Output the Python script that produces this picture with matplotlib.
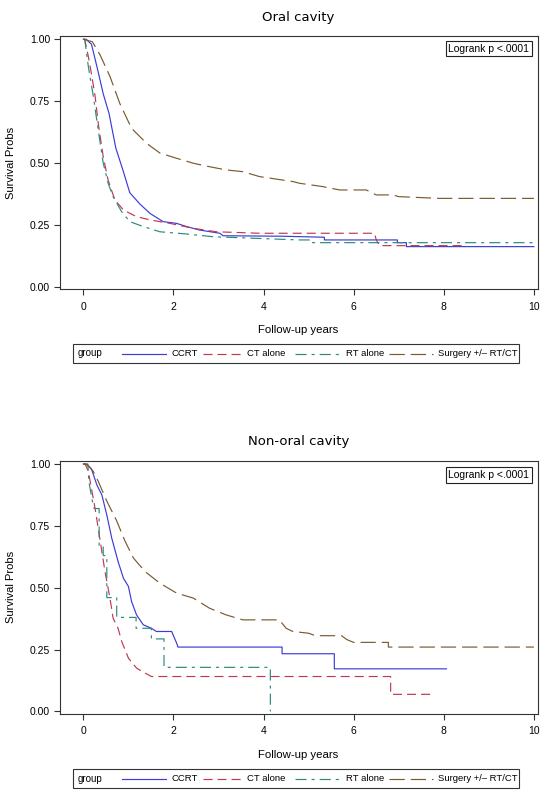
import matplotlib
matplotlib.use("Agg")
import matplotlib.pyplot as plt
from matplotlib.lines import Line2D
from matplotlib.patches import Rectangle

plt.rcParams["font.family"] = ["Liberation Sans", "DejaVu Sans"]
plt.rcParams["lines.scale_dashes"] = False

groups = ["CCRT", "CT alone", "RT alone", "Surgery +/\u2013 RT/CT"]
titles = ["Oral cavity", "Non-oral cavity"]

# oral cavity (years, survival)
oral_ccrt_t = [0, 0.06, 0.18, 0.30, 0.44, 0.57, 0.72, 0.88, 1.03, 1.25, 1.48, 1.77, 2.07, 2.29, 2.58,
               3.03, 3.1, 4.4, 5.35, 5.35, 6.97, 6.97, 7.17, 7.17, 10.0]
oral_ccrt_s = [1.0, 1.0, 0.98, 0.89, 0.78, 0.70, 0.56, 0.47, 0.38, 0.335, 0.296, 0.263, 0.256, 0.243, 0.229,
               0.216, 0.206, 0.204, 0.2, 0.189, 0.189, 0.178, 0.178, 0.162, 0.162]
oral_ct_t = [0, 0.03, 0.11, 0.18, 0.26, 0.33, 0.44, 0.55, 0.70, 0.89, 1.18, 1.48, 1.92, 2.44, 2.95,
             3.91, 6.46, 6.5, 6.57, 8.5]
oral_ct_s = [1.0, 1.0, 0.93, 0.86, 0.77, 0.66, 0.526, 0.43, 0.35, 0.31, 0.283, 0.27, 0.256, 0.236, 0.222,
             0.216, 0.216, 0.19, 0.166, 0.166]
oral_rt_t = [0, 0.03, 0.11, 0.22, 0.33, 0.44, 0.55, 0.66, 0.85, 1.03, 1.33, 1.70, 2.29, 2.88, 3.91,
             4.8, 5.09, 5.09, 10.0]
oral_rt_s = [1.0, 1.0, 0.89, 0.77, 0.633, 0.5, 0.418, 0.364, 0.303, 0.263, 0.243, 0.222, 0.213, 0.202, 0.195,
             0.189, 0.189, 0.178, 0.178]
oral_surg_t = [0, 0.2, 0.37, 0.59, 0.81, 1.07, 1.4, 1.7, 2.07, 2.44, 2.8, 3.17, 3.54, 3.91, 4.65, 4.8,
               5.3, 5.69, 6.28, 6.5, 6.87, 7.0, 7.9, 10.0]
oral_surg_s = [1.0, 0.99, 0.937, 0.85, 0.74, 0.64, 0.58, 0.54, 0.519, 0.499, 0.485, 0.472, 0.465, 0.445, 0.425, 0.418,
               0.405, 0.391, 0.391, 0.371, 0.371, 0.364, 0.357, 0.357]

# non-oral cavity
non_ccrt_t = [0, 0.07, 0.18, 0.30, 0.41, 0.52, 0.63, 0.77, 0.89, 1.0, 1.07, 1.18, 1.33, 1.51, 1.62, 1.96,
              1.99, 2.07, 2.1, 4.41, 4.41, 5.57, 5.57, 8.06]
non_ccrt_s = [1.0, 1.0, 0.98, 0.915, 0.875, 0.794, 0.70, 0.606, 0.538, 0.505, 0.444, 0.39, 0.35, 0.336, 0.323, 0.323,
              0.31, 0.276, 0.26, 0.26, 0.233, 0.233, 0.172, 0.172]
non_ct_t = [0, 0.04, 0.11, 0.18, 0.26, 0.33, 0.41, 0.48, 0.59, 0.66, 0.77, 0.85, 1.0, 1.18, 1.37, 1.51,
            6.82, 6.82, 7.76]
non_ct_s = [1.0, 1.0, 0.97, 0.9, 0.82, 0.74, 0.646, 0.565, 0.458, 0.377, 0.336, 0.283, 0.215, 0.175, 0.155, 0.141,
            0.141, 0.069, 0.069]
non_rt_t = [0, 0.1, 0.12, 0.2, 0.24, 0.35, 0.35, 0.44, 0.44, 0.52, 0.52, 0.74, 0.74, 1.17, 1.17, 1.51,
            1.51, 1.79, 1.79, 4.15, 4.15]
non_rt_s = [1.0, 1.0, 0.93, 0.85, 0.82, 0.82, 0.67, 0.67, 0.63, 0.63, 0.46, 0.46, 0.38, 0.38, 0.336, 0.336,
            0.293, 0.293, 0.178, 0.178, 0.0]
non_surg_t = [0, 0.1, 0.22, 0.33, 0.52, 0.74, 0.92, 1.11, 1.37, 1.7, 2.07, 2.44, 2.8, 3.17, 3.54, 4.35,
              4.5, 4.65, 5.0, 5.15, 5.73, 5.85, 6.0, 6.77, 6.77, 10.0]
non_surg_s = [1.0, 0.995, 0.97, 0.93, 0.85, 0.77, 0.69, 0.62, 0.565, 0.518, 0.478, 0.458, 0.417, 0.39, 0.37, 0.37,
              0.336, 0.323, 0.316, 0.306, 0.306, 0.29, 0.279, 0.279, 0.26, 0.26]

colors = ["#3b3bd6", "#c2384f", "#2b8a7a", "#7a5a30"]
dashes = [None, (6.5, 3.6), (8, 3.6, 2.2, 3.6), (11, 4.3)]

panels = [
    [(oral_ccrt_t, oral_ccrt_s), (oral_ct_t, oral_ct_s), (oral_rt_t, oral_rt_s), (oral_surg_t, oral_surg_s)],
    [(non_ccrt_t, non_ccrt_s), (non_ct_t, non_ct_s), (non_rt_t, non_rt_s), (non_surg_t, non_surg_s)],
]

W, H = 550, 800
fig = plt.figure(figsize=(5.5, 8), dpi=100)

# pixel layout of the two panels: (top, bottom) of the frame
frames = [(36, 289.3), (460.7, 714)]
legend_tops = [344, 769]
logrank_y = [48.5, 475]
left, right = 59.5, 537.5
edge = "#333333"


def fx(px):
    return px / W


def fy(py):
    return 1 - py / H


for k, (top, bot) in enumerate(frames):
    ax = fig.add_axes([fx(left), fy(bot), (right - left) / W, (bot - top) / H])
    for (t, s), c, d in zip(panels[k], colors, dashes):
        line, = ax.plot(t, s, color=c, lw=0.85)
        if d is not None:
            line.set_dashes(d)
    ax.set_xlim(-0.53, 10.08)
    ax.set_ylim(-0.0105, 1.0133)
    ax.set_xticks([0, 2, 4, 6, 8, 10])
    ax.set_yticks([0, 0.25, 0.5, 0.75, 1.0])
    ax.set_yticklabels(["%.2f" % v for v in [0, 0.25, 0.5, 0.75, 1.0]])
    ax.tick_params(direction="out", length=4.3, width=0.8, color=edge, labelsize=7.5)
    ax.tick_params(axis="x", pad=4.5)
    ax.tick_params(axis="y", pad=2.5)
    for sp in ax.spines.values():
        sp.set_color(edge)
        sp.set_linewidth(0.8)
    hgt = bot - top
    ax.set_xlabel("Follow-up years", fontsize=8.2)
    ax.xaxis.set_label_coords(0.5, -40.7 / hgt)
    ax.xaxis.label.set_va("center")
    ax.set_ylabel("Survival Probs", fontsize=8)
    ax.yaxis.set_label_coords(-(left - 11) / (right - left), 0.5)
    ax.yaxis.label.set_va("center")
    ax.text(0.5, 1 + 19 / hgt, titles[k], transform=ax.transAxes, ha="center", va="center",
            fontsize=9.5, family="DejaVu Sans")
    ax.text((489 - left) / (right - left), 1 - (logrank_y[k] - top) / hgt, "Logrank p <.0001",
            transform=ax.transAxes, ha="center", va="center", fontsize=7.5,
            bbox=dict(boxstyle="square,pad=0.25", fc="white", ec="#222222", lw=0.8))

    # legend strip under the panel
    ly = legend_tops[k]
    fig.patches.append(Rectangle((fx(73), fy(ly + 19)), (519 - 73) / W, 19 / H, transform=fig.transFigure,
                                 fill=False, lw=0.8, ec=edge))
    cy = fy(ly + 9.5)
    fig.text(fx(78), cy, "group", ha="left", va="center", fontsize=7)
    seg = [(122, 166), (203, 242), (295, 340), (389, 433)]
    txt = [171, 247, 346, 438]
    for g, c, d, (a, b), tx in zip(groups, colors, dashes, seg, txt):
        ln = Line2D([fx(a), fx(b)], [cy, cy], transform=fig.transFigure, color=c, lw=0.85)
        if d is not None:
            ln.set_dashes(d)
        fig.lines.append(ln)
        fig.text(fx(tx), cy, g, ha="left", va="center", fontsize=6.8)

fig.savefig("out.png", dpi=100)
